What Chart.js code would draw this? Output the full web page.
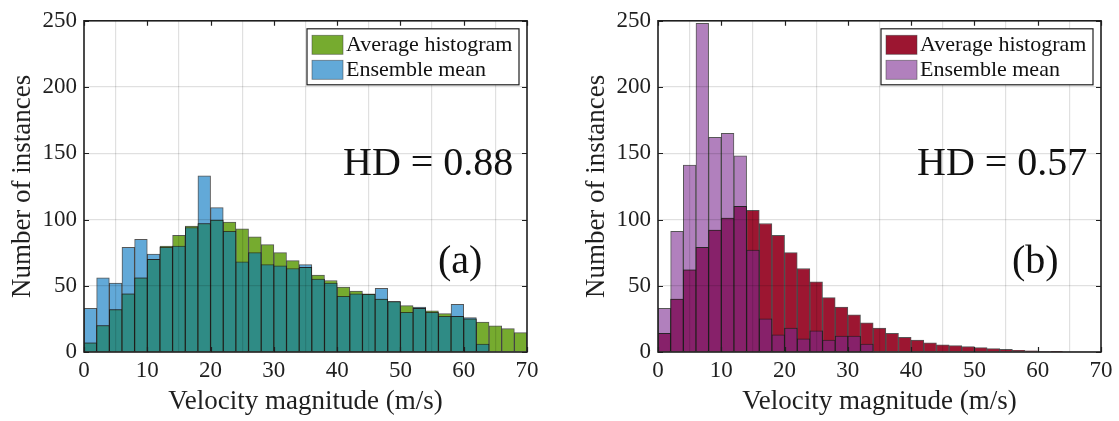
<!DOCTYPE html>
<html>
<head>
<meta charset="utf-8">
<script src="https://cdn.jsdelivr.net/npm/chart.js@4"></script>
<style>
  body { margin: 0; background: #fff; }
  #wrap { position: relative; width: 1119px; height: 421px; }
  #c1 { position: absolute; left: 0; top: 0; }
  #c2 { position: absolute; left: 560px; top: 0; }
</style>
</head>
<body>
<div id="wrap">
  <canvas id="c1" width="560" height="421"></canvas>
  <canvas id="c2" width="559" height="421"></canvas>
</div>
<script>
// bin centres (2 m/s bins from 0 to 70)
const binCenters = [1, 3, 5, 7, 9, 11, 13, 15, 17, 19, 21, 23, 25, 27, 29, 31, 33, 35,
    37, 39, 41, 43, 45, 47, 49, 51, 53, 55, 57, 59, 61, 63, 65, 67, 69];
const xTicks = [0, 10, 20, 30, 40, 50, 60, 70];
const yTicks = [0, 50, 100, 150, 200, 250];

// panel (a)
const avgHistA = [7, 20, 32, 44, 56, 70, 80, 88, 95, 97, 99.5, 98, 93, 87, 81, 75, 69, 64,
    58, 54, 49, 46, 44, 40, 38, 35, 33, 31, 29, 27, 25, 22.5, 19.8, 17.6, 14.6];
const ensMeanA = [33, 56, 52, 79, 85, 74, 79, 80, 94, 133, 109, 91, 68, 75, 66, 65, 63, 66,
    55, 52, 42, 44, 43.5, 48, 38, 30, 34, 30, 27, 36, 26, 6, 0, 0, 0];

// panel (b)
const avgHistB = [14, 40, 62, 79, 92, 101, 110, 107, 97, 88, 75, 63, 53, 41, 34, 28, 22, 18,
    14, 11, 9, 7, 5.5, 4.8, 4, 3.3, 2.5, 2, 1.3, 0.8, 0.4, 0.2, 0, 0, 0];
const ensMeanB = [33, 91, 141, 248, 162, 165, 148, 77, 25, 13, 18, 10, 16, 9, 12, 12, 6, 0,
    0, 0, 0, 0, 0, 0, 0, 0, 0, 0, 0, 0, 0, 0, 0, 0, 0];

const FONT = "'Liberation Serif', 'DejaVu Serif', serif";
const INK = '#1f1f1f';

function toPoints(vals) {
    return vals.map((v, i) => ({ x: binCenters[i], y: v }));
}

function makeHist(id, avg, ens, cols, hdText, tag, padLeft, padRight, titleGap) {
    const overlap = avg.map((v, i) => Math.min(v, ens[i]));
    const edge = 'rgba(30,30,30,0.75)';

    const decor = {
        id: 'decor',
        afterDraw(chart) {
            const { ctx, chartArea: a, scales } = chart;
            ctx.save();
            // inner ticks on all four sides
            ctx.strokeStyle = INK;
            ctx.lineWidth = 1.2;
            ctx.beginPath();
            xTicks.forEach(t => {
                const x = Math.round(scales.x.getPixelForValue(t)) + 0.5;
                ctx.moveTo(x, a.bottom); ctx.lineTo(x, a.bottom - 5);
                ctx.moveTo(x, a.top); ctx.lineTo(x, a.top + 5);
            });
            yTicks.forEach(t => {
                const y = Math.round(scales.y.getPixelForValue(t)) + 0.5;
                ctx.moveTo(a.left, y); ctx.lineTo(a.left + 5, y);
                ctx.moveTo(a.right, y); ctx.lineTo(a.right - 5, y);
            });
            ctx.stroke();
            // box
            ctx.lineWidth = 1.6;
            ctx.strokeRect(a.left, a.top, a.right - a.left, a.bottom - a.top);

            // legend
            const lw = 212, lh = 56;
            const lx = a.right - 8 - lw, ly = a.top + 8;
            ctx.fillStyle = '#fff';
            ctx.fillRect(lx, ly, lw, lh);
            ctx.lineWidth = 1.2;
            ctx.strokeStyle = INK;
            ctx.strokeRect(lx, ly, lw, lh);
            const items = [['Average histogram', cols.avg], ['Ensemble mean', cols.ens]];
            ctx.font = '22px ' + FONT;
            ctx.textBaseline = 'middle';
            ctx.textAlign = 'left';
            items.forEach((it, k) => {
                const cy = ly + 15.5 + k * 25;
                ctx.fillStyle = it[1];
                ctx.fillRect(lx + 5, cy - 9, 31, 19);
                ctx.strokeStyle = 'rgba(60,60,60,0.6)';
                ctx.lineWidth = 0.8;
                ctx.strokeRect(lx + 5, cy - 9, 31, 19);
                ctx.fillStyle = '#111';
                ctx.fillText(it[0], lx + 39, cy + 1);
            });

            // annotations
            ctx.fillStyle = '#111';
            ctx.textBaseline = 'alphabetic';
            ctx.font = '40px ' + FONT;
            ctx.fillText(hdText, a.left + 259, a.top + 154);
            ctx.fillText(tag, a.left + 354, a.top + 252);
            ctx.restore();
        }
    };

    return new Chart(document.getElementById(id), {
        type: 'bar',
        data: {
            datasets: [
                { label: 'overlap', data: toPoints(overlap), backgroundColor: cols.both },
                { label: 'Average histogram', data: toPoints(avg), backgroundColor: cols.avg },
                { label: 'Ensemble mean', data: toPoints(ens), backgroundColor: cols.ens }
            ]
        },
        options: {
            responsive: false,
            animation: false,
            grouped: false,
            barPercentage: 1,
            categoryPercentage: 1,
            borderWidth: 1,
            borderColor: edge,
            layout: { padding: { top: 19, right: padRight, left: 0, bottom: 0 } },
            plugins: { legend: { display: false }, tooltip: { enabled: false } },
            scales: {
                x: {
                    type: 'linear',
                    min: 0, max: 70,
                    offset: false,
                    afterBuildTicks: s => { s.ticks = xTicks.map(v => ({ value: v })); },
                    afterFit: s => { s.height = 69; },
                    grid: { color: 'rgba(0,0,0,0.12)', z: 1, drawTicks: false, lineWidth: 1.2 },
                    border: { display: false },
                    ticks: { font: { family: FONT, size: 23 }, color: INK, padding: 5, maxRotation: 0 },
                    title: { display: true, text: 'Velocity magnitude (m/s)', font: { family: FONT, size: 27 }, color: INK, padding: { top: 0, bottom: 3 } }
                },
                y: {
                    min: 0, max: 250,
                    afterBuildTicks: s => { s.ticks = yTicks.map(v => ({ value: v })); },
                    afterFit: s => { s.width = padLeft; },
                    grid: { color: 'rgba(0,0,0,0.12)', z: 1, drawTicks: false, lineWidth: 1.2 },
                    border: { display: false },
                    ticks: { font: { family: FONT, size: 23 }, color: INK, padding: 7 },
                    title: { display: true, text: 'Number of instances', font: { family: FONT, size: 27 }, color: INK, padding: { top: titleGap, bottom: 0 } }
                }
            }
        },
        plugins: [decor]
    });
}

makeHist('c1', avgHistA, ensMeanA,
    { avg: '#76ab2f', ens: '#62a9d8', both: '#2f8b85' },
    'HD = 0.88', '(a)', 84, 33, 7);
makeHist('c2', avgHistB, ensMeanB,
    { avg: '#9c1631', ens: '#b180bd', both: '#87216a' },
    'HD = 0.57', '(b)', 98, 18, 21);
</script>
</body>
</html>
